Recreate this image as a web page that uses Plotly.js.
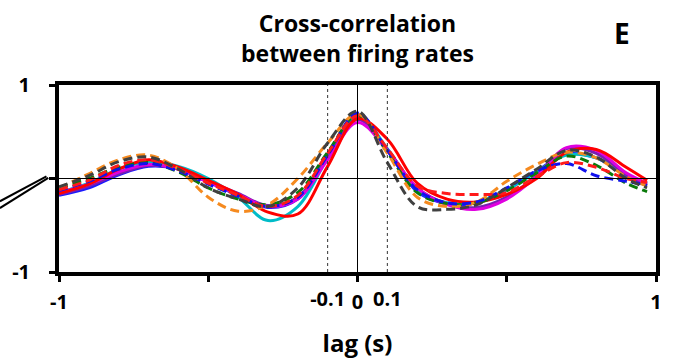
<!DOCTYPE html>
<html>
<head>
<meta charset="utf-8">
<script src="https://cdn.plot.ly/plotly-3.0.1.min.js"></script>
<style>html,body{margin:0;padding:0;background:#fff;}#chart{width:677px;height:360px;}</style>
</head>
<body>
<div id="chart"></div>
<script>
// lag values (s)
const lags = [-1,-0.9,-0.8,-0.7,-0.6,-0.5,-0.4,-0.3,-0.2,-0.1,0,0.1,0.2,0.3,0.4,0.5,0.6,0.7,0.8,0.9,0.97];

// cross-correlation curves
const blueSolid    = [-0.18,-0.10,0.04,0.13,0.10,-0.04,-0.18,-0.31,-0.22,0.25,0.66,0.30,-0.14,-0.27,-0.26,-0.12,0.08,0.26,0.22,0.03,-0.08];
const cyanSolid    = [-0.15,-0.05,0.10,0.18,0.13,0.00,-0.20,-0.45,-0.30,0.22,0.68,0.32,-0.12,-0.26,-0.25,-0.12,0.07,0.25,0.22,0.04,-0.05];
const magentaSolid = [-0.15,-0.06,0.07,0.15,0.10,-0.04,-0.17,-0.30,-0.22,0.20,0.60,0.30,-0.10,-0.28,-0.33,-0.22,0.02,0.33,0.30,0.06,-0.05];
const purpleSolid  = [-0.17,-0.08,0.05,0.14,0.10,-0.03,-0.16,-0.29,-0.20,0.22,0.63,0.31,-0.10,-0.27,-0.31,-0.20,0.03,0.32,0.27,0.04,-0.06];
const redSolid     = [-0.16,-0.06,0.10,0.20,0.12,-0.02,-0.17,-0.36,-0.38,0.13,0.64,0.42,-0.05,-0.22,-0.25,-0.17,0.00,0.28,0.31,0.12,-0.02];
const greenDash    = [-0.10,0.00,0.12,0.17,0.07,-0.10,-0.22,-0.28,-0.15,0.28,0.68,0.28,-0.15,-0.27,-0.26,-0.13,0.06,0.24,0.14,-0.05,-0.14];
const orangeDash   = [-0.10,0.05,0.20,0.25,0.10,-0.20,-0.35,-0.28,0.00,0.38,0.69,0.27,-0.20,-0.30,-0.25,-0.03,0.15,0.28,0.22,0.02,-0.08];
const grayDash     = [-0.09,0.03,0.18,0.23,0.10,-0.10,-0.22,-0.30,-0.10,0.38,0.72,0.17,-0.30,-0.33,-0.28,-0.10,0.10,0.30,0.23,0.00,-0.10];
const redDash      = [-0.12,-0.02,0.14,0.20,0.10,-0.05,-0.18,-0.30,-0.18,0.27,0.67,0.32,-0.08,-0.16,-0.17,-0.15,0.02,0.17,0.12,0.00,-0.04];
const blueDash     = [-0.13,-0.03,0.10,0.16,0.08,-0.06,-0.19,-0.30,-0.20,0.25,0.70,0.30,-0.12,-0.26,-0.25,-0.10,0.08,0.16,0.03,-0.03,-0.07];

// tick labels
const xTickVals = [-1,-0.5,0,0.5,1];
const xTickText = ['-1','','0','','1'];
const xExtraVals = [-0.1,0.1];
const xExtraText = ['-0.1','0.1'];
const yTickVals = [-1,0,1];
const yTickText = ['-1','','1'];
const refLagsDotted = [-0.1,0.1];
const refLagSolid = 0;
const refCorr = 0;

const series = [
  {y: blueSolid,    color:'#1a1aff', dash:'solid'},
  {y: cyanSolid,    color:'#00bcc8', dash:'solid'},
  {y: purpleSolid,  color:'#7a1fb0', dash:'solid'},
  {y: magentaSolid, color:'#e000e0', dash:'solid'},
  {y: redSolid,     color:'#ff0000', dash:'solid'},
  {y: greenDash,    color:'#0a7a0a', dash:'9px,5px'},
  {y: orangeDash,   color:'#f58a1f', dash:'9px,5px'},
  {y: blueDash,     color:'#1010ee', dash:'9px,5px'},
  {y: redDash,      color:'#ff1a1a', dash:'9px,5px'},
  {y: grayDash,     color:'#404040', dash:'9px,5px'}
];

const traces = series.map(s => ({
  x: lags, y: s.y, type:'scatter', mode:'lines',
  line:{color:s.color, width:3, dash:s.dash, shape:'spline', smoothing:1},
  hoverinfo:'skip', showlegend:false
}));
// invisible trace for the extra tick labels axis
traces.push({x:[-1,1], y:[0,0], xaxis:'x2', yaxis:'y', mode:'lines', line:{width:0}, opacity:0, showlegend:false, hoverinfo:'skip'});

const fontFam = '"Open Sans", sans-serif';
const tickFont = () => ({family:fontFam, size:20, color:'#000', weight:'bold'});
const bold = arr => arr.map(t => t ? '<b>' + t + '</b>' : '');

const shapes = [];
refLagsDotted.forEach(v => shapes.push({type:'line', xref:'x', yref:'paper', x0:v, x1:v, y0:0, y1:1, line:{color:'#333', width:1, dash:'dot'}, layer:'above'}));
shapes.push({type:'line', xref:'x', yref:'paper', x0:refLagSolid, x1:refLagSolid, y0:0, y1:1, line:{color:'#000', width:1}, layer:'above'});
shapes.push({type:'line', xref:'paper', yref:'y', x0:0, x1:1, y0:refCorr, y1:refCorr, line:{color:'#000', width:1}, layer:'above'});
// axis-break slashes at the left
shapes.push({type:'line', xref:'paper', yref:'paper', x0:-0.099, y0:0.378, x1:-0.021, y1:0.512, line:{color:'#000', width:2}});
shapes.push({type:'line', xref:'paper', yref:'paper', x0:-0.099, y0:0.342, x1:-0.018, y1:0.503, line:{color:'#000', width:2}});

const layout = {
  width:677, height:360,
  margin:{l:59, r:21, t:85, b:88},
  paper_bgcolor:'#fff', plot_bgcolor:'#fff',
  font:{family:fontFam, color:'#000', size:20},
  title:{text:'<b>Cross-correlation<br>between firing rates</b>', font:{family:fontFam, size:23, color:'#000'},
         x:0.5, xref:'paper', xanchor:'center', y:0.912, yref:'container', yanchor:'top'},
  xaxis:{range:[-1,1], tickvals:xTickVals, ticktext:bold(xTickText), ticks:'outside', ticklen:6, tickwidth:3, tickcolor:'#000',
         showline:true, linewidth:4, linecolor:'#000', mirror:true, showgrid:false, zeroline:false,
         tickfont:tickFont(), ticklabelstandoff:3, automargin:false,
         title:{text:'<b>lag (s)</b>', font:{family:fontFam, size:24, color:'#000'}, standoff:22}},
  xaxis2:{range:[-1,1], overlaying:'x', anchor:'y', side:'bottom', tickvals:xExtraVals, ticktext:bold(xExtraText),
         ticks:'outside', ticklen:6, tickwidth:1, tickcolor:'rgba(0,0,0,0)', ticklabelstandoff:3, automargin:false,
         showline:false, showgrid:false, zeroline:false, tickfont:tickFont()},
  yaxis:{range:[-1,1], tickvals:yTickVals, ticktext:bold(yTickText), ticks:'outside', ticklen:6, tickwidth:3, tickcolor:'#000',
         showline:true, linewidth:4, linecolor:'#000', mirror:true, showgrid:false, zeroline:false, automargin:false,
         tickfont:tickFont(), ticklabelstandoff:15},
  shapes:shapes,
  annotations:[{text:'<b>E</b>', xref:'paper', yref:'paper', x:0.943, y:1.278, xanchor:'center', yanchor:'middle', showarrow:false, font:{family:fontFam, size:28, color:'#000'}}]
};

Plotly.newPlot('chart', traces, layout, {displayModeBar:false, staticPlot:true});
</script>
</body>
</html>
